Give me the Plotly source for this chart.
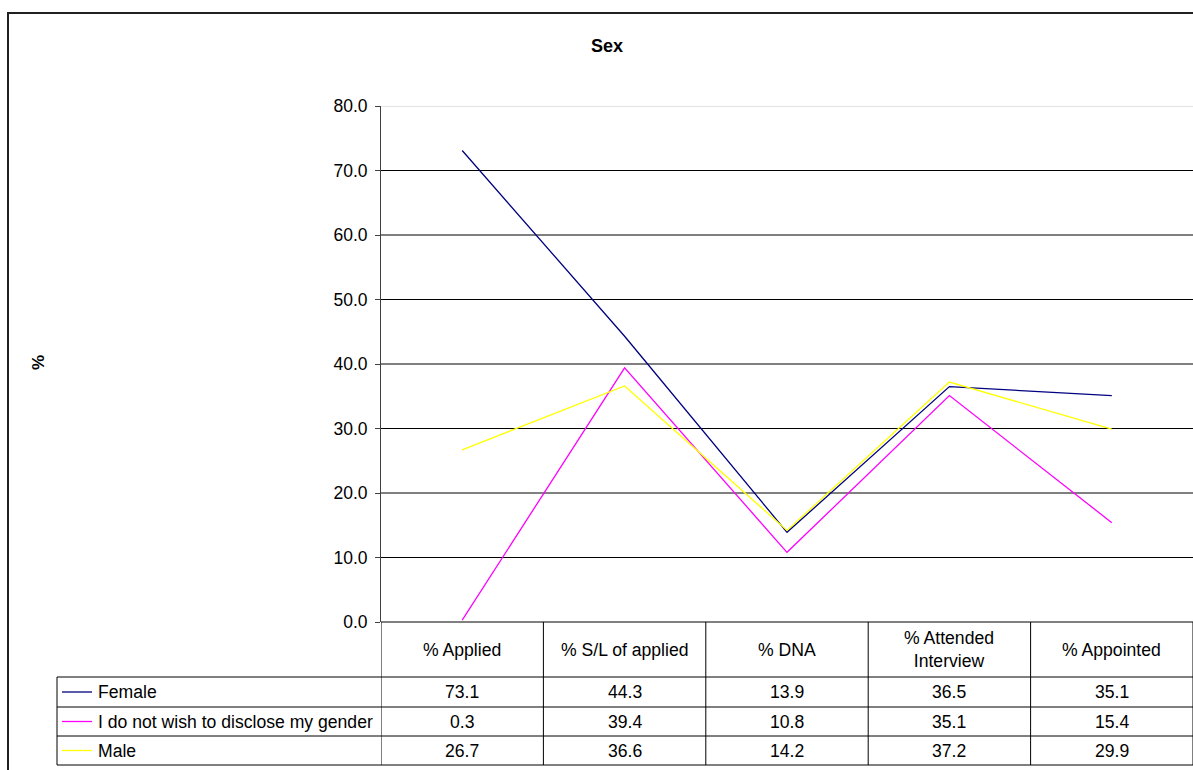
import plotly.graph_objects as go

# Recruitment stages and percentages by sex
stages = ["% Applied", "% S/L of applied", "% DNA", "% Attended<br>Interview", "% Appointed"]
series_names = ["Female", "I do not wish to disclose my gender", "Male"]
female = [73.1, 44.3, 13.9, 36.5, 35.1]
undisclosed = [0.3, 39.4, 10.8, 35.1, 15.4]
male = [26.7, 36.6, 14.2, 37.2, 29.9]
y_ticks = [0, 10, 20, 30, 40, 50, 60, 70, 80]

series_values = [female, undisclosed, male]
series_colors = ["#000080", "#FF00FF", "#FFFF00"]

W, H = 1193, 770
L, R, T, B = 381, 0, 106, 148
PW, PH = W - L - R, H - T - B
FONT = "Liberation Sans, Arial, sans-serif"
TABLE_SIZE = 17.6


def px(x):
    return (x - L) / PW


def py(y):
    return (H - B - y) / PH


fig = go.Figure()
xs = list(range(len(stages)))
for name, vals, col in zip(series_names, series_values, series_colors):
    fig.add_trace(go.Scatter(x=xs, y=vals, mode="lines", name=name,
                             line=dict(color=col, width=1.3), showlegend=False))

shapes = []
# horizontal gridlines (top line lighter)
for v in y_ticks[1:]:
    shapes.append(dict(type="line", xref="paper", yref="y", x0=0, x1=1, y0=v, y1=v,
                       line=dict(color="#c8c8c8" if v == y_ticks[-1] else "#000000", width=1),
                       layer="below"))

# data table grid
row_tops = [622, 677, 707, 736, 765]
table_left = 57
col_edges = [i - 0.5 for i in range(len(stages) + 1)]
shapes.append(dict(type="line", xref="paper", yref="paper", x0=0, x1=1.01,
                   y0=py(row_tops[0]), y1=py(row_tops[0]), line=dict(color="black", width=1)))
for r in row_tops[1:]:
    shapes.append(dict(type="line", xref="paper", yref="paper", x0=px(table_left), x1=1.01,
                       y0=py(r), y1=py(r), line=dict(color="black", width=1)))
for ce in col_edges:
    shapes.append(dict(type="line", xref="x", yref="paper", x0=ce, x1=ce,
                       y0=py(row_tops[0]), y1=py(row_tops[-1]), line=dict(color="black", width=1)))
shapes.append(dict(type="line", xref="paper", yref="paper", x0=px(table_left), x1=px(table_left),
                   y0=py(row_tops[1]), y1=py(row_tops[-1]), line=dict(color="black", width=1)))

# outer chart border
shapes.append(dict(type="rect", xref="paper", yref="paper", x0=px(8), x1=px(1210),
                   y0=py(13), y1=py(790), line=dict(color="#202020", width=2)))

annotations = []
# column headers
for i, s in enumerate(stages):
    annotations.append(dict(x=i, y=py((row_tops[0] + row_tops[1]) / 2), xref="x", yref="paper",
                            text=s, showarrow=False, xanchor="center", yanchor="middle",
                            font=dict(family=FONT, size=TABLE_SIZE, color="black")))
# rows: legend key, series name, values
for k, (name, vals, col) in enumerate(zip(series_names, series_values, series_colors)):
    yc = (row_tops[k + 1] + row_tops[k + 2]) / 2
    shapes.append(dict(type="line", xref="paper", yref="paper", x0=px(62), x1=px(92),
                       y0=py(yc), y1=py(yc), line=dict(color=col, width=1.3)))
    annotations.append(dict(x=px(96), y=py(yc), xref="paper", yref="paper", text=name,
                            showarrow=False, xanchor="left", yanchor="middle",
                            font=dict(family=FONT, size=TABLE_SIZE, color="black")))
    for i, v in enumerate(vals):
        annotations.append(dict(x=i, y=py(yc), xref="x", yref="paper", text=f"{v:.1f}",
                                showarrow=False, xanchor="center", yanchor="middle",
                                font=dict(family=FONT, size=TABLE_SIZE, color="black")))

# title and y-axis label
annotations.append(dict(x=px(607), y=py(46), xref="paper", yref="paper", text="<b>Sex</b>",
                        showarrow=False, xanchor="center", yanchor="middle",
                        font=dict(family=FONT, size=18, color="black")))
annotations.append(dict(x=px(38), y=py(363), xref="paper", yref="paper", text="<b>%</b>",
                        showarrow=False, xanchor="center", yanchor="middle", textangle=-90,
                        font=dict(family=FONT, size=17, color="black")))

fig.update_layout(
    width=W, height=H,
    margin=dict(l=L, r=R, t=T, b=B, pad=0),
    paper_bgcolor="white", plot_bgcolor="white",
    shapes=shapes, annotations=annotations,
    showlegend=False,
    xaxis=dict(range=[-0.5, len(stages) - 0.5], showticklabels=False, showgrid=False,
               zeroline=False, showline=False, ticks=""),
    yaxis=dict(range=[y_ticks[0], y_ticks[-1]], tickvals=y_ticks, tickformat=".1f",
               showgrid=False, zeroline=False, showline=True, linecolor="#404040", linewidth=1,
               ticks="outside", ticklen=5, tickcolor="#404040", ticklabelstandoff=4,
               tickfont=dict(family=FONT, size=17.5, color="black")),
)

fig.write_html("out.html")
